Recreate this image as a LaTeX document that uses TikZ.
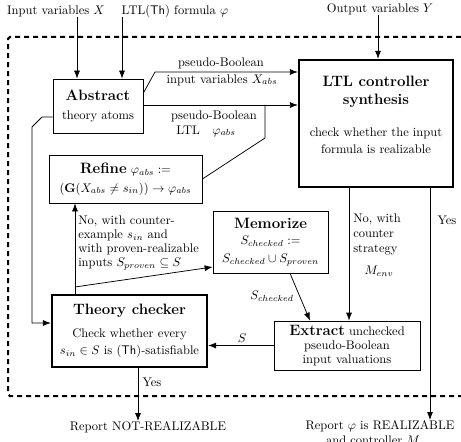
\documentclass[tikz,border=0pt]{standalone}
\usetikzlibrary{arrows.meta}
\begin{document}
\begin{tikzpicture}[x=0.8pt,y=-0.8pt,
  box/.style={draw,line width=0.6pt,align=center,inner sep=0pt},
  tbox/.style={draw,line width=1.8pt,align=center,inner sep=0pt},
  arr/.style={-{Latex[length=6.4pt,width=4.8pt]},line width=0.6pt},
  ln/.style={line width=0.6pt},
  lab/.style={inner sep=0pt,align=center},
  frame/.style={line width=1.6pt,dash pattern=on 4pt off 3.2pt,rounded corners=1.5pt}]
\useasboundingbox (0,0) rectangle (461,441);
% dashed frame
\draw[frame] (461,37) -- (8,37) -- (8,396) -- (461,396);
% top labels
\node[lab] (inX) at (56,11) {Input variables $X$};
\node[lab] (ltlphi) at (175,11) {LTL(\textsf{Th}) formula $\varphi$};
\node[lab] (outY) at (380,9) {Output variables $Y$};
% boxes
\node[box,minimum width=72pt,minimum height=43.2pt] (abs) at (98,106)
  {{\large\bfseries Abstract}\\[3pt] theory atoms};
\node[tbox,minimum width=123.2pt,minimum height=101.6pt] (ltl) at (376,123.5)
  {{\large\bfseries LTL controller}\\[2.5pt] {\large\bfseries synthesis}\\[13pt] check whether the input\\[1.5pt] formula is realizable\\[2pt]\mbox{}};
\node[box,minimum width=122.4pt,minimum height=38.4pt] (ref) at (125.5,179)
  {{\large\bfseries Refine} $\varphi_{abs} :=$\\[3pt] $(\mathbf{G}(X_{abs} \neq s_{in})) \rightarrow \varphi_{abs}$};
\node[box,minimum width=92pt,minimum height=49.6pt] (mem) at (270.5,242)
  {{\large\bfseries Memorize}\\[1pt] $S_{checked} :=$\\[2pt] $S_{checked} \cup S_{proven}$};
\node[tbox,minimum width=124pt,minimum height=57.6pt] (tc) at (129.5,331)
  {{\large\bfseries Theory checker}\\[6pt] Check whether every\\[2pt] $s_{in} \in S$ is (\textsf{Th})-satisfiable};
\node[box,minimum width=116.8pt,minimum height=39.2pt] (ext) at (347,345.5)
  {{\large\bfseries Extract} unchecked\\[-1pt] pseudo-Boolean\\[-1pt] input valuations};
% bottom reports
\node[lab] (rnot) at (148,427) {Report NOT-REALIZABLE};
\node[lab,anchor=north] (rreal) at (380,420) {Report $\varphi$ is REALIZABLE\\and controller $M_{sys}$};
% labels
\node[lab] (pb1) at (221,63) {pseudo-Boolean};
\node[lab] (iv) at (222,80) {input variables $X_{abs}$};
\node[lab] (pb2) at (214,116) {pseudo-Boolean};
\node[lab] (lp) at (206,131) {LTL\quad$\varphi_{abs}$};
\node[lab,align=left,anchor=west] (nocx) at (78,243)
  {No, with counter-\\[-0.8pt]example $s_{in}$ and\\[-0.8pt]with proven-realizable\\[-0.8pt]inputs $S_{proven} \subseteq S$};
\node[lab,align=left,anchor=north west] (nost) at (353,214)
  {No, with\\counter\\strategy\\[5pt]\hspace*{9pt}$M_{env}$};
\node[lab] (yes1) at (447,220) {Yes};
\node[lab] (yes2) at (152,382) {Yes};
\node[lab] (slab) at (242,338) {$S$};
\node[lab] (schk) at (272,296) {$S_{checked}$};
% connectors
\draw[arr] (inX.south -| 77,0) -- (77,0 |- abs.north);
\draw[arr] (ltlphi.south -| 122,0) -- (122,0 |- abs.north);
\draw[arr] (outY.south -| 378,0) -- (378,0 |- ltl.north);
\draw[arr] (abs.east |- 0,93) -- (155,72) -- (ltl.west |- 0,72);
\draw[arr] (abs.east |- 0,105) -- (ltl.west |- 0,105);
\draw[ln] (ref.east) -- (265,138) -- (265,105);
\draw[arr] (abs.west |- 0,117) -- (42,117) -- (32,127) -- (32,323) -- (tc.west |- 0,323);
\draw[arr] (75,0 |- tc.north) -- (75,0 |- ref.south);
\draw[arr] (75,287) -- (mem.west |- 0,267);
\draw[arr] (290,0 |- mem.south) -- (310,0 |- ext.north);
\draw[arr] (349,0 |- ltl.south) -- (349,0 |- ext.north);
\draw[arr] (430,0 |- ltl.south) -- (430,0 |- rreal.north);
\draw[arr] (ext.west) -- (tc.east |- ext.west);
\draw[arr] (138,0 |- tc.south) -- (138,0 |- rnot.north);
\end{tikzpicture}
\end{document}
